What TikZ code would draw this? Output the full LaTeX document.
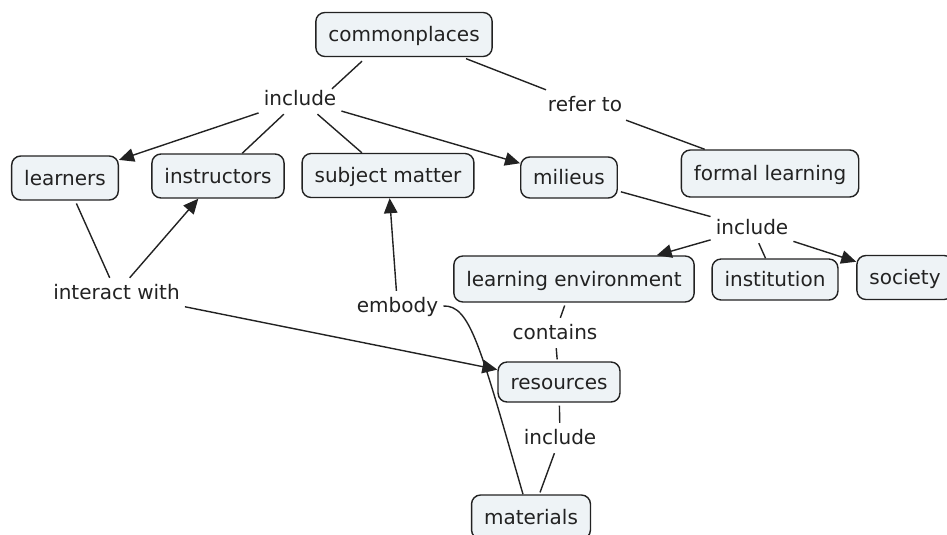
\documentclass[tikz,border=0pt]{standalone}
\usepackage{fontspec}
\setmainfont{DejaVu Sans}
\usetikzlibrary{arrows.meta}
\definecolor{boxfill}{HTML}{EEF3F6}
\definecolor{ink}{HTML}{222222}
\begin{document}
\begin{tikzpicture}[x=1pt,y=-1pt,
  concept/.style={draw=ink, line width=1.4pt, fill=boxfill, rounded corners=9pt,
    inner xsep=12.5pt, inner ysep=0pt, minimum height=44pt, text=ink,
    text height=17pt, text depth=3pt, font=\fontsize{20}{23}\selectfont},
  linkword/.style={inner sep=5pt, text=ink, text height=16pt, text depth=4pt,
    font=\fontsize{20}{23}\selectfont},
  link/.style={draw=ink, line width=1.4pt},
  arr/.style={link, -{Triangle[length=15pt,width=13.5pt]}}]
\useasboundingbox (0,0) rectangle (947,535);

% concepts
\node[concept] (commonplaces) at (404,34.5) {commonplaces};
\node[concept] (learners) at (65,178) {learners};
\node[concept] (instructors) at (218,176) {instructors};
\node[concept] (subject) at (388,175.5) {subject matter};
\node[concept, minimum height=41pt] (milieus) at (569,177.5) {milieus};
\node[concept, minimum height=47pt] (formal) at (770,173.5) {formal learning};
\node[concept, minimum height=46pt] (environment) at (574,279) {learning environment};
\node[concept, minimum height=41pt] (institution) at (775,279.5) {institution};
\node[concept] (society) at (905,277.5) {society};
\node[concept, minimum height=40pt] (resources) at (559,382) {resources};
\node[concept] (materials) at (531,517) {materials};

% linking phrases
\node[linkword] (inc1) at (300,99) {include};
\node[linkword] (refer) at (585,105) {refer to};
\node[linkword] (interact) at (116.5,293) {interact with};
\node[linkword] (embody) at (397.5,306) {embody};
\node[linkword] (inc2) at (752,228) {include};
\node[linkword] (contains) at (555,333) {contains};
\node[linkword] (inc3) at (560,438) {include};

% propositions
\draw[link] ([xshift=-42pt,yshift=-4pt]commonplaces.south) -- ([xshift=32pt,yshift=-5pt]inc1.north);
\draw[link, shorten <=4pt] (commonplaces) -- (refer);
\draw[link] (refer) -- (formal);
\draw[arr] (inc1) -- (learners);
\draw[link] (inc1) -- (instructors);
\draw[link] (inc1) -- (subject);
\draw[arr] (inc1) -- (milieus);
\draw[link, shorten <=3pt] (learners) -- (interact);
\draw[arr] (interact) -- (instructors);
\draw[arr] (interact) -- (resources);
\draw[arr] (embody) -- (subject);
\draw[link] (embody.east) .. controls (470,305) and (480,345) .. ([xshift=-8pt]materials.north);
\draw[link, shorten <=3pt] (milieus) -- (inc2);
\draw[arr] (inc2) -- (environment);
\draw[link] (inc2) -- (institution);
\draw[arr] (inc2) -- (society);
\draw[link, shorten <=3pt] (environment) -- (contains);
\draw[link, shorten >=2pt] (contains) -- (resources);
\draw[link, shorten <=3pt] (resources) -- (inc3);
\draw[link, shorten >=2pt] (inc3) -- (materials);
\end{tikzpicture}
\end{document}
